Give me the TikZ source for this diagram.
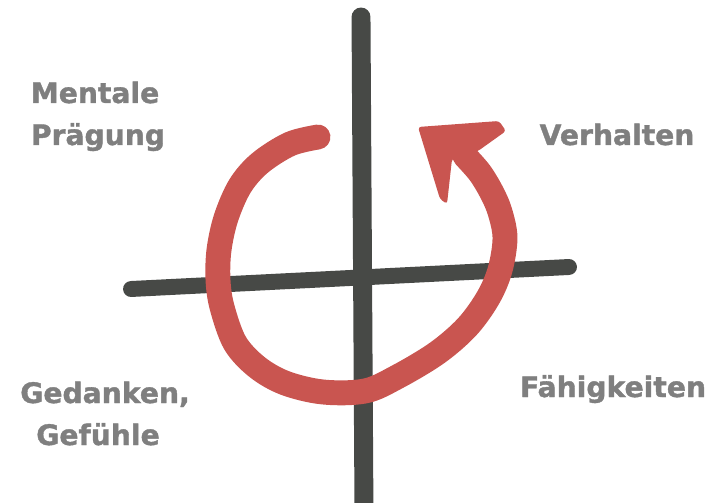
\documentclass[tikz,border=0pt]{standalone}
\usepackage{fontspec}
\setmainfont{DejaVu Sans}
\newfontfamily\labelfont{DejaVu Sans}[BoldFeatures={FakeBold=1.3}]
\definecolor{arcred}{RGB}{201,85,80}
\definecolor{crossdark}{RGB}{71,73,70}
\definecolor{labelgray}{RGB}{127,127,127}
\tikzset{
  label text/.style={font=\labelfont\fontsize{28.3}{33}\selectfont\bfseries, text=labelgray, anchor=base, inner sep=0pt},
  crossline/.style={draw=crossdark, line cap=round},
  arcline/.style={draw=arcred, line width=25, line cap=round, line join=round},
}
\begin{document}
\begin{tikzpicture}[x=1bp, y=-1bp]
\useasboundingbox (0,0) rectangle (712,503);
% cross
\coordinate (vtop) at (361,17);
\coordinate (vbot) at (364,515);
\coordinate (hleft) at (131,289);
\coordinate (hright) at (569,267);
\draw[crossline, line width=19] (vtop) -- (vbot);
\draw[crossline, line width=16] (hleft) -- (hright);
% red arc
\draw[arcline] plot[smooth, tension=0.55] coordinates {
  (318,137) (290,144) (260,163) (240,186) (226,218) (219,250) (218,280)
  (222,307) (235,343) (257,367) (285,383) (323,392) (365,391) (397,377)
  (437,353) (467,327) (488,298) (500,270) (505,238) (500,212) (492,193)
  (480,173) (465,156)};
\fill[arcred] (318,137) circle[radius=11];
\coordinate (tip) at (418,127);
\fill[arcred, rounded corners=3] (tip) -- (499,121) -- (506,131) -- (478,151)
  -- (452,159) -- (447,204) -- (440,199) -- cycle;
% labels
\node[label text] (mentale) at (95,103) {Mentale};
\node[label text] (praegung) at (98,145) {Prägung};
\node[label text] (verhalten) at (617,145) {Verhalten};
\node[label text] (gedanken) at (105,403) {Gedanken,};
\node[label text] (gefuehle) at (98,445) {Gefühle};
\node[label text] (faehig) at (613,397) {Fähigkeiten};
\end{tikzpicture}
\end{document}
